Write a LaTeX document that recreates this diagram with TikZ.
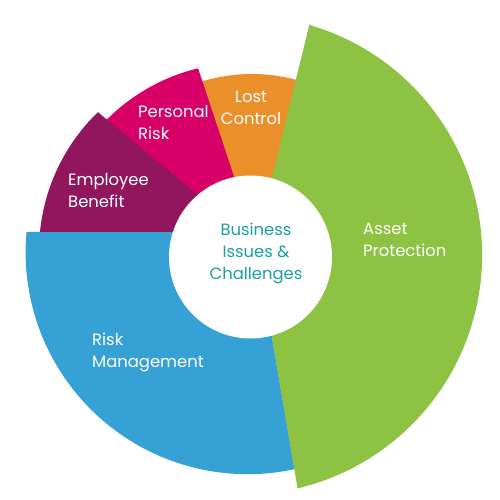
\documentclass[tikz,border=0pt]{standalone}
\usepackage{fontspec}
\setmainfont{Poppins}
\usepackage{xcolor}
\usepackage{tikz}
\usetikzlibrary{positioning}
\definecolor{assetgreen}{RGB}{141,194,67}
\definecolor{riskblue}{RGB}{54,161,212}
\definecolor{lostorange}{RGB}{235,143,43}
\definecolor{personalpink}{RGB}{216,0,104}
\definecolor{benefitpurple}{RGB}{146,22,94}
\definecolor{coreteal}{RGB}{26,160,163}

\begin{document}
\begin{tikzpicture}[x=1pt, y=1pt,
seglabel/.style={text=white, font=\fontsize{16.4}{22}\selectfont, inner sep=0pt, align=left, anchor=north west},
corelabel/.style={text=coreteal, font=\fontsize{16.4}{22}\selectfont, inner sep=0pt, align=center, anchor=north}
]
\useasboundingbox (0,0) rectangle (500,500);

% centres of the wedges and of their arcs
\coordinate (hub) at (256,257);
\coordinate (asset) at (242.4,244.9);
\coordinate (risk) at (247.6,247.8);
\coordinate (lost) at (252,254);
\coordinate (personal) at (243,245);
\coordinate (benefit) at (232,249);

\fill[riskblue] (230,268) -- ([shift={(174.78:222pt)}]risk) arc[start angle=174.78, end angle=282.2, radius=222pt] -- (hub) -- cycle;
\fill[lostorange] (hub) -- ([shift={(72:172pt)}]lost) arc[start angle=72, end angle=108, radius=172pt] -- cycle;
\fill[personalpink] (hub) -- ([shift={(103.53:192pt)}]personal) arc[start angle=103.53, end angle=137, radius=192pt] -- cycle;
\fill[benefitpurple] (hub) -- ([shift={(134:193pt)}]benefit) arc[start angle=134, end angle=174.35, radius=193pt] -- (200,268) -- cycle;
\fill[assetgreen] (hub) -- ([shift={(73.8:239.7pt)}]asset) arc[start angle=73.8, end angle=-76.7, radius=239.7pt] -- cycle;
\fill[white] (250.5,243) circle[radius=81.5pt];

\node[seglabel, align=center, anchor=north] (lostlbl) at (251,409) {Lost\\Control};
\node[seglabel] (personallbl) at (138,395) {Personal\\Risk};
\node[seglabel] (benefitlbl) at (68,327) {Employee\\Benefit};
\node[seglabel] (assetlbl) at (363,277) {Asset\\Protection};
\node[seglabel] (risklbl) at (92,167) {Risk\\Management};
\node[corelabel] (core) at (256,277) {Business\\Issues \&\\Challenges};
\end{tikzpicture}
\end{document}
